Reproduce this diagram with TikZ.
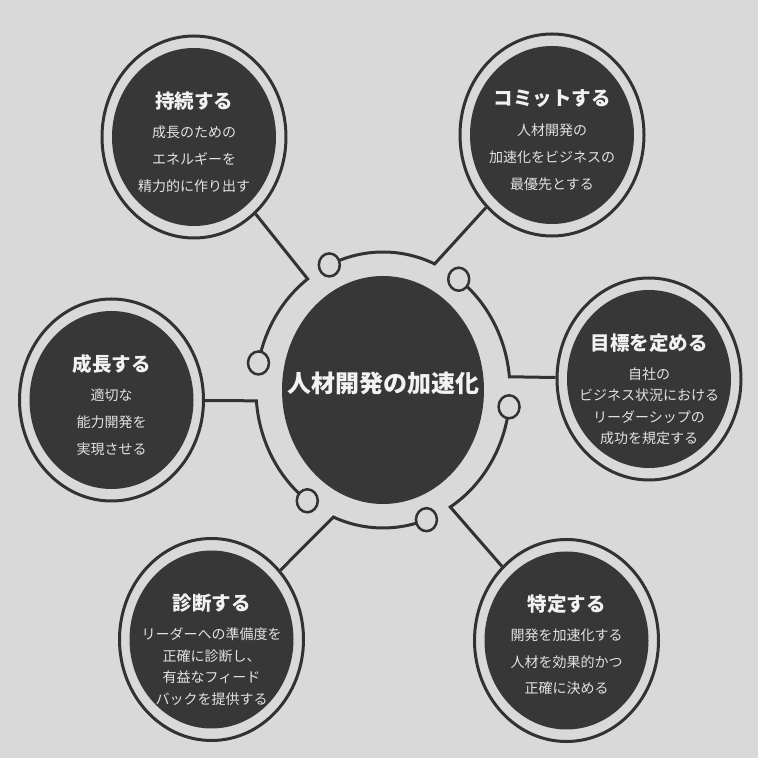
\documentclass[tikz,border=0pt]{standalone}
\usepackage{fontspec}
\newfontfamily\jp{Noto Sans CJK JP}
\usetikzlibrary{shapes.geometric,calc}
\definecolor{paper}{HTML}{D9D9D9}
\definecolor{ink}{HTML}{323232}
\definecolor{inkfill}{HTML}{373737}
\definecolor{txtw}{HTML}{F2F2F2}
\definecolor{txtb}{HTML}{E2E2E2}
\newcommand\mybubble[6]{%
  \node[outerring] (#1) at (#2,#3) {};
  \node[innerfill] (#1f) at (#2,#3) {};
  \node[ttl] (#1t) at (#2,#3+36) {#4};
  \foreach \bline [count=\k] in {#5} {
    \node[bdy] (#1b\k) at (#2,#3+5-\k*#6+#6) {\bline};
  }
}
\begin{document}
\begin{tikzpicture}[x=1pt,y=1pt,
  ringline/.style={draw=ink,line width=3pt},
  outerring/.style={ellipse,draw=ink,line width=3pt,minimum width=184pt,minimum height=202pt,inner sep=0pt},
  innerfill/.style={ellipse,fill=inkfill,minimum width=164pt,minimum height=178pt,inner sep=0pt},
  smallc/.style={ellipse,draw=ink,fill=paper,line width=2.5pt,minimum width=21pt,minimum height=23pt,inner sep=0pt},
  core/.style={ellipse,fill=inkfill,minimum width=202pt,minimum height=228pt,inner sep=0pt},
  ttl/.style={text=txtw,font=\jp\bfseries\fontsize{19.5}{22}\selectfont,inner sep=0pt},
  bdy/.style={text=txtb,font=\jp\fontsize{14}{16}\selectfont,inner sep=0pt},
  coretxt/.style={text=txtw,font=\jp\bfseries\fontsize{24}{28}\selectfont,inner sep=0pt}
]
\fill[paper] (0,0) rectangle (758,758);
\useasboundingbox (0,0) rectangle (758,758);

% centre
\coordinate (C) at (383,368);
\node[core] (core) at (C) {};
\node[coretxt] (coretext) at (383,375) {人材開発の加速化};

% outer bubbles
\mybubble{jizoku}{194}{621}{持続する}{成長のための,エネルギーを,精力的に作り出す}{27}
\mybubble{commit}{552}{623}{コミットする}{人材開発の,加速化をビジネスの,最優先とする}{27}
\mybubble{mokuhyo}{649}{379}{目標を定める}{自社の,ビジネス状況における,リーダーシップの,成功を規定する}{21.5}
\mybubble{seicho}{111.5}{358}{成長する}{適切な,能力開発を,実現させる}{27}
\mybubble{shindan}{211.5}{118.5}{診断する}{リーダーへの準備度を,正確に診断し、,有益なフィード,バックを提供する}{21.5}
\mybubble{tokutei}{566.5}{117.5}{特定する}{開発を加速化する,人材を効果的かつ,正確に決める}{26.5}

% ring points (small circles)
\coordinate (p1) at ($(C)+(115:127 and 138)$);
\coordinate (p2) at ($(C)+(53.4:127 and 138)$);
\coordinate (p3) at ($(C)+(-7:127 and 138)$);
\coordinate (p4) at ($(C)+(-70:127 and 138)$);
\coordinate (p5) at ($(C)+(-126.6:127 and 138)$);
\coordinate (p6) at ($(C)+(168.7:127 and 138)$);

% ring arcs with connectors
\draw[ringline] (p1) arc[start angle=115,end angle=66,x radius=127,y radius=138] coordinate (j1) -- (commit);
\draw[ringline] (p2) arc[start angle=53.4,end angle=5.5,x radius=127,y radius=138] coordinate (j2) -- (mokuhyo);
\draw[ringline] (p3) arc[start angle=-7,end angle=-58,x radius=127,y radius=138] coordinate (j3) -- (tokutei);
\draw[ringline] (p4) arc[start angle=-70,end angle=-113,x radius=127,y radius=138] coordinate (j4) -- (shindan);
\draw[ringline] (p5) arc[start angle=-126.6,end angle=-175.5,x radius=127,y radius=138] coordinate (j5) -- (seicho);
\draw[ringline] (p6) arc[start angle=168.7,end angle=126.4,x radius=127,y radius=138] coordinate (j6) -- (jizoku);

% small circles
\foreach \i in {1,...,6} { \node[smallc] (s\i) at (p\i) {}; }
\end{tikzpicture}
\end{document}
